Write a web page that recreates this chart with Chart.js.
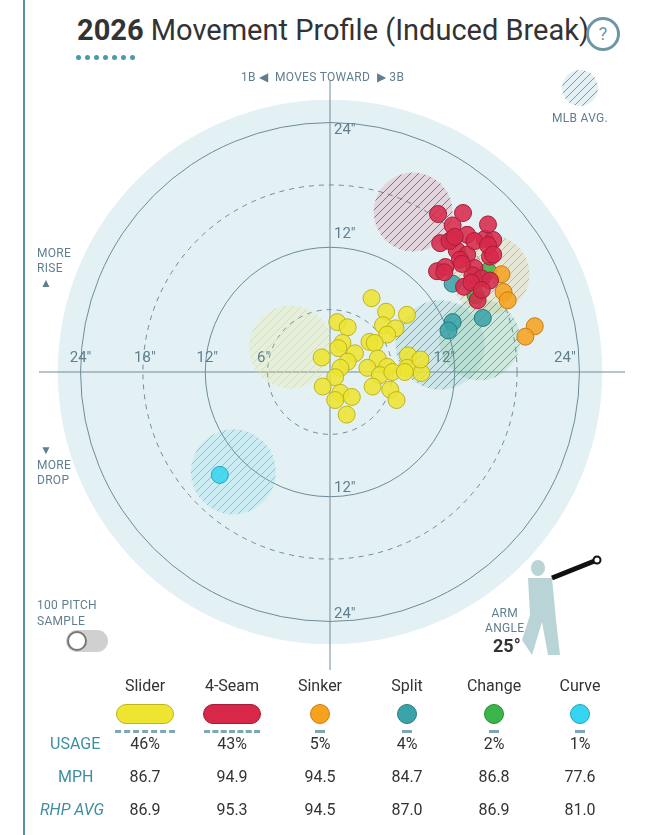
<!DOCTYPE html>
<html><head><meta charset="utf-8">
<script src="https://cdn.jsdelivr.net/npm/chart.js@4.4.1/dist/chart.umd.min.js"></script>
<style>
body{margin:0;width:650px;height:835px;background:#fff;font-family:Roboto,sans-serif;color:#333;position:relative;overflow:hidden}
#wrap{position:absolute;left:0;top:0;width:650px;height:700px}
.abs{position:absolute}
.lbl{color:#5f7f8e;font-size:12px;letter-spacing:.3px}
#tbl{position:absolute;left:0;top:676px;width:650px}
.cell{position:absolute;transform:translateX(-50%);text-align:center;white-space:nowrap}
</style></head><body>
<div class="abs" style="left:23px;top:0;width:2px;height:835px;background:#5b8fa0"></div>
<div class="abs" style="left:77px;top:13px;font-size:29px;color:#333"><b>2026</b> Movement Profile (Induced Break)</div>
<div class="abs" style="left:586px;top:17px;width:28px;height:28px;border:3px solid #6f96a5;border-radius:50%;text-align:center;line-height:28px;color:#6f96a5;font-size:18px">?</div>
<div class="abs" style="left:76px;top:55px;font-size:0" id="dots"></div>
<div id="wrap"><canvas id="chart" width="650" height="700"></canvas></div>
<div class="abs lbl" style="left:241px;top:70px">1B ◀&nbsp; MOVES TOWARD &nbsp;▶ 3B</div>
<div class="abs lbl" style="left:552px;top:111px">MLB AVG.</div>
<div class="abs lbl" style="left:37px;top:246px;line-height:15px">MORE<br>RISE<br><span style="margin-left:3px">▲</span></div>
<div class="abs lbl" style="left:37px;top:443px;line-height:15px"><span style="margin-left:3px">▼</span><br>MORE<br>DROP</div>
<div class="abs lbl" style="left:37px;top:597px;line-height:16px">100 PITCH<br>SAMPLE</div>
<div class="abs" style="left:66px;top:630px;width:42px;height:22px;border-radius:11px;background:#d0d0d0"></div>
<div class="abs" style="left:67px;top:630px;width:20px;height:20px;border-radius:50%;background:#fff;border:2px solid #777;box-sizing:border-box;top:631px"></div>
<div class="abs lbl" style="left:485px;top:606px;line-height:15px;text-align:center">ARM<br>ANGLE</div>
<div class="abs" style="left:493px;top:635px;font-size:18px;font-weight:bold">25°</div>
<div id="tbl"></div>
<script>
// pitch movement, inches (x: horizontal break, y: induced vertical break)
const sliderX = [4.0,5.4,7.4,0.7,1.7,5.1,6.3,5.5,3.8,4.3,1.2,0.8,2.4,-0.8,4.6,7.5,1.7,1.0,3.6,5.5,7.4,8.8,0.5,4.8,6.0,-0.7,4.1,5.8,1.0,2.1,0.5,6.4,1.6,8.7,7.2];
const sliderY = [7.1,5.8,5.5,4.8,4.3,4.5,4.2,3.6,2.9,2.8,2.8,2.3,1.8,1.4,1.3,1.6,1.0,0.4,0.4,0.5,0.4,-0.1,-0.5,-0.3,0.0,-1.4,-1.4,-1.7,-2.0,-2.4,-2.7,-2.7,-4.1,1.2,0.0];
const fourSeamX = [10.4,12.8,11.8,10.6,11.8,13.2,14.9,15.7,12.2,13.2,15.4,10.3,11.1,13.9,13.7,14.6,15.4,12.9,14.2,11.5,13.9,15.2,15.7,12.5,15.2,12.7,11.0,13.6,14.6,12.0];
const fourSeamY = [15.2,15.3,14.1,12.4,12.8,13.2,12.8,12.7,11.7,11.3,11.1,9.7,10.1,10.0,9.3,9.0,8.8,8.2,6.9,12.6,12.6,12.2,11.3,10.8,14.2,10.4,9.6,8.6,7.9,13.0];
const sinkerX = [16.5,16.7,17.1,19.7,18.8];
const sinkerY = [9.4,7.7,6.9,4.4,3.4];
const splitX = [11.8,11.8,11.4,14.7];
const splitY = [8.5,4.8,4.0,5.2];
const changeX = [15.2,14.0];
const changeY = [9.7,7.4];
const curveX = [-10.6];
const curveY = [-9.9];
// MLB average per pitch (center x, center y)
const avgNames = ['Slider','4-Seam','Sinker','Split','Change','Curve'];
const avgX = [-3.8,8.0,15.4,10.6,14.4,-9.3];
const avgY = [2.4,15.4,9.4,2.6,3.1,-9.6];
const avgR = [4.0,3.8,3.8,4.3,3.9,4.1];
// table
const usage = [46,43,5,4,2,1];
const mph = [86.7,94.9,94.5,84.7,86.8,77.6];
const rhpAvg = [86.9,95.3,94.5,87.0,86.9,81.0];
const ringTicks = [6,12,18,24];

const colors = ['#ede52f','#d7284a','#f6a21f','#3aa3a8','#3bb54a','#35d4ef'];
const borders = ['#bdb420','#a51d38','#c47e12','#2a7a80','#2a8a36','#22a6bd'];

const d = document.getElementById('dots');
for (let i=0;i<7;i++) d.innerHTML += '<span style="display:inline-block;width:5px;height:5px;border-radius:50%;background:#4a9aa9;margin-right:4px"></span>';

function hatch(col){
  const c=document.createElement('canvas');c.width=8;c.height=8;const g=c.getContext('2d');
  g.strokeStyle=col;g.lineWidth=1;g.beginPath();
  g.moveTo(0,8);g.lineTo(8,0);g.moveTo(-2,2);g.lineTo(2,-2);g.moveTo(6,10);g.lineTo(10,6);g.stroke();
  return g.createPattern(c,'repeat');
}

const bg = {
  id:'bg',
  beforeDatasetsDraw(chart){
    const {ctx,scales:{x,y}}=chart;
    const cx=x.getPixelForValue(0),cy=y.getPixelForValue(0),u=x.getPixelForValue(1)-cx;
    ctx.save();
    ctx.fillStyle='#e4f1f4';ctx.beginPath();ctx.arc(cx,cy,26.2*u,0,7);ctx.fill();
    ctx.strokeStyle='#6f8c99';ctx.lineWidth=1;
    ringTicks.forEach(t=>{
      ctx.setLineDash(t%12?[5,5]:[]);ctx.beginPath();ctx.arc(cx,cy,t*u,0,7);ctx.stroke();
    });
    ctx.setLineDash([]);
    ctx.beginPath();ctx.moveTo(x.left,cy);ctx.lineTo(x.right+4,cy);ctx.moveTo(cx,y.top);ctx.lineTo(cx,y.bottom+7);ctx.stroke();
    avgNames.forEach((n,i)=>{
      const px=x.getPixelForValue(avgX[i]),py=y.getPixelForValue(avgY[i]);
      ctx.fillStyle=colors[i]+'22';ctx.beginPath();ctx.arc(px,py,avgR[i]*u,0,7);ctx.fill();
      ctx.fillStyle=hatch(colors[i]+'cc');ctx.beginPath();ctx.arc(px,py,avgR[i]*u,0,7);ctx.fill();
    });
    // legend swatch
    ctx.fillStyle='#e4f1f4';ctx.beginPath();ctx.arc(580,88,18,0,7);ctx.fill();
    ctx.fillStyle=hatch('#7f9aa6');ctx.beginPath();ctx.arc(580,88,18,0,7);ctx.fill();
    ctx.fillStyle='#5f7f8e';ctx.font='15px Roboto';ctx.textBaseline='middle';
    [24,18,12,6].forEach(t=>{ctx.textAlign='center';ctx.fillText(t+'"',x.getPixelForValue(-t)+(t==24?0:t==6?-4:2),cy-14);});
    ctx.fillText('12"',x.getPixelForValue(11),cy-14);ctx.fillText('24"',x.getPixelForValue(22.6),cy-14);
    ctx.textAlign='left';
    ctx.fillText('24"',cx+4,y.getPixelForValue(23.3));ctx.fillText('12"',cx+4,y.getPixelForValue(13.3));
    ctx.fillText('12"',cx+4,y.getPixelForValue(-11.2));ctx.fillText('24"',cx+4,y.getPixelForValue(-23.3));
    // arm figure (simple)
    ctx.fillStyle='#b9d4d6';
    ctx.beginPath();ctx.ellipse(538,568,7,8,0,0,7);ctx.fill();
    ctx.beginPath();ctx.moveTo(528,578);ctx.lineTo(552,578);ctx.lineTo(556,620);ctx.lineTo(560,655);ctx.lineTo(548,655);ctx.lineTo(542,622);ctx.lineTo(532,655);ctx.lineTo(522,640);ctx.lineTo(530,615);ctx.closePath();ctx.fill();
    ctx.strokeStyle='#111';ctx.lineWidth=5;ctx.beginPath();ctx.moveTo(552,578);ctx.lineTo(597,560);ctx.stroke();
    ctx.fillStyle='#fff';ctx.lineWidth=2;ctx.beginPath();ctx.arc(597,560,3.5,0,7);ctx.fill();ctx.stroke();
    ctx.restore();
  }
};

const sets=[[sliderX,sliderY],[fourSeamX,fourSeamY],[sinkerX,sinkerY],[splitX,splitY],[changeX,changeY],[curveX,curveY]];
new Chart(document.getElementById('chart'),{
  type:'scatter',
  data:{datasets:sets.map((s,i)=>({label:avgNames[i],data:s[0].map((v,j)=>({x:v,y:s[1][j]})),
    backgroundColor:colors[i]+'dd',borderColor:borders[i],borderWidth:1,pointRadius:8.5}))},
  options:{responsive:false,animation:false,
    layout:{padding:{left:39,right:29,top:81,bottom:37}},
    scales:{x:{min:-28,max:28,display:false},y:{min:-28,max:28,display:false}},
    plugins:{legend:{display:false},tooltip:{enabled:false}}},
  plugins:[bg]
});

const cols=[145,232,320,407,494,580];
let h='';
const rows=[['USAGE',68,'#3f8ea0',''],['MPH',101,'#3f8ea0',''],['RHP AVG',134,'#3f8ea0','font-style:italic']];
rows.forEach(r=>h+=`<div class="abs" style="left:${r[0]=='USAGE'?50:r[0]=='MPH'?58:40}px;top:${r[1]-10}px;color:${r[2]};font-size:16px;${r[3]}">${r[0]}</div>`);
avgNames.forEach((n,i)=>{
  const c=cols[i];const w=i<2?58:20;
  h+=`<div class="cell" style="left:${c}px;top:0;font-size:16px">${n}</div>`;
  h+=`<div class="cell" style="left:${c}px;top:28px;width:${w}px;height:20px;border-radius:10px;background:${colors[i]};border:1px solid ${borders[i]};box-sizing:border-box"></div>`;
  const lw=Math.max(10,usage[i]*1.3);
  h+=`<div class="cell" style="left:${c}px;top:54px;width:${lw}px;border-top:3px dashed #7fa6b3"></div>`;
  h+=`<div class="cell" style="left:${c}px;top:58px;font-size:16px">${usage[i]}%</div>`;
  h+=`<div class="cell" style="left:${c}px;top:91px;font-size:16px">${mph[i].toFixed(1)}</div>`;
  h+=`<div class="cell" style="left:${c}px;top:124px;font-size:16px">${rhpAvg[i].toFixed(1)}</div>`;
});
document.getElementById('tbl').innerHTML=h;
</script>
</body></html>
